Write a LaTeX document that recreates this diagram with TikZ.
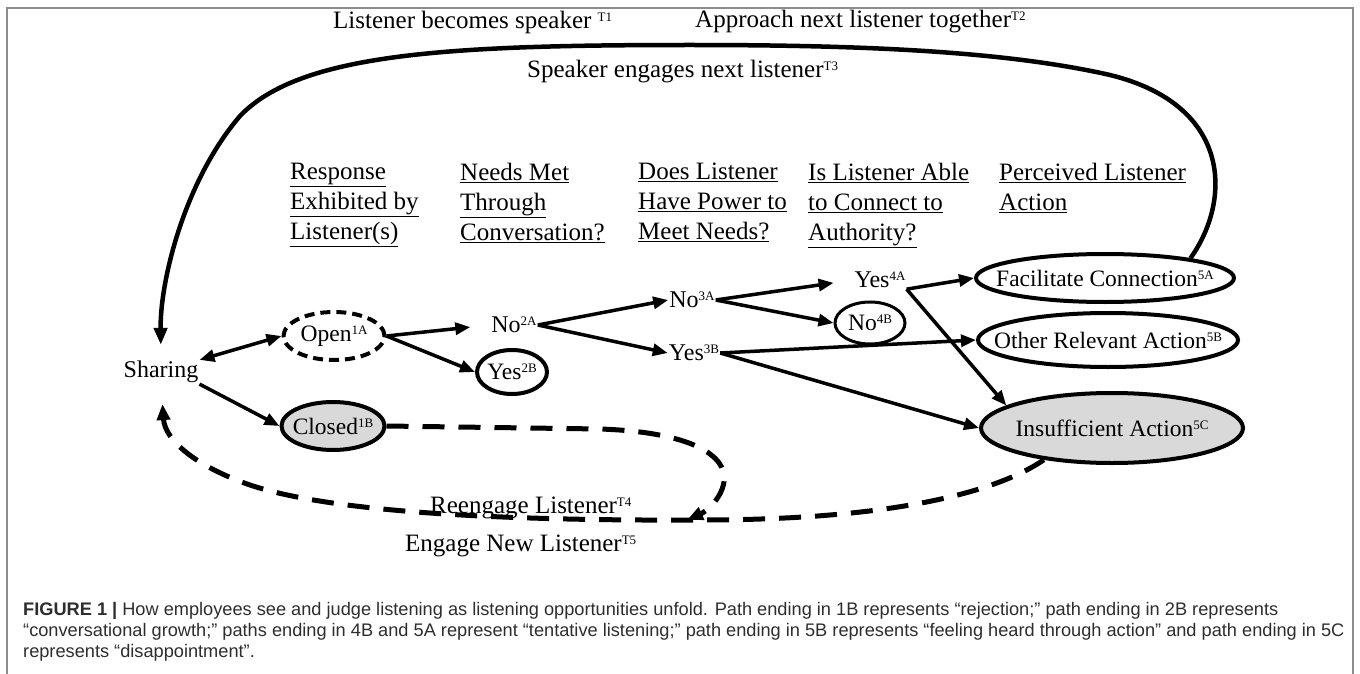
\documentclass[tikz,border=0pt]{standalone}
\usepackage{fontspec}
\setmainfont{Liberation Serif}
\newfontfamily\captionFamily{Liberation Sans}
\usepackage{tikz}
\usetikzlibrary{positioning,shapes.geometric,arrows.meta}
\tikzstyle{diagram} = [x = 1pt, y = -1pt]
\definecolor{frameColor}{RGB}{140,140,140}
\definecolor{ovalGrey}{RGB}{217,217,217}
\definecolor{captionColor}{RGB}{45,45,45}
\newcommand{\diagFont}{\fontsize{24}{30}\selectfont}
\newcommand{\ovalFont}{\fontsize{23.5}{30}\selectfont}
\newcommand{\headFont}{\fontsize{25}{30}\selectfont}
\tikzstyle{frameLine} = [color=frameColor, line width=1.5pt]
\tikzstyle{plainText} = [font=\diagFont, inner sep=1pt]
\tikzstyle{headText} = [font=\headFont, align=left, anchor=north west, inner sep=0pt]
\tikzstyle{loopText} = [font=\headFont, anchor=west, inner sep=0pt]
\tikzstyle{ovalStyle} = [ellipse, draw, line width=4pt, inner sep=0pt, font=\ovalFont]
\tikzstyle{openOval} = [ovalStyle, dash pattern=on 10pt off 6pt]
\tikzstyle{closedOval} = [ovalStyle, fill=ovalGrey]
\tikzstyle{flowArrow} = [line width=3.5pt, >={Triangle[length=15pt, width=12pt]}, ->]
\tikzstyle{loopArrow} = [line width=4.5pt, >={Triangle[length=17pt, width=13pt]}, ->]
\tikzstyle{returnArrow} = [line width=5pt, dash pattern=on 22pt off 14pt, >={Triangle[length=16pt, width=13pt]}, ->]
\tikzstyle{captionText} = [font=\captionFamily\fontsize{18.2}{21}\selectfont, text=captionColor, align=left, anchor=north west, inner sep=0pt]
\newcommand{\pathTag}[1]{\raisebox{7pt}{\fontsize{13}{13}\selectfont #1}}
\newcommand{\ovalText}[1]{\makebox[0pt]{#1}}
\newcommand{\headerLines}[3]{\underline{#1}\\\underline{#2}\\\underline{#3}}

\begin{document}
\begin{tikzpicture}[diagram]
      \useasboundingbox (0,0) rectangle (1360,674);
      \draw[frameLine] (7,674) -- (7,8) -- (1353,8) -- (1353,674);

      \node[loopText] (becomesSpeaker) at (333,22) {Listener becomes speaker \pathTag{T1}};
      \node[loopText] (approachTogether) at (695,22) {Approach next listener together\pathTag{T2}};
      \node[loopText] (engagesNext) at (527,72) {Speaker engages next listener\pathTag{T3}};

      \node[headText] (responseHead) at (290,163) {\headerLines{Response}{Exhibited by}{Listener(s)}};
      \node[headText] (needsHead) at (460,163) {\headerLines{Needs Met}{Through}{Conversation?}};
      \node[headText] (powerHead) at (638,163) {\headerLines{Does Listener}{Have Power to}{Meet Needs?}};
      \node[headText] (authorityHead) at (808,163) {\headerLines{Is Listener Able}{to Connect to}{Authority?}};
      \node[headText] (actionHead) at (999,163) {\underline{Perceived Listener}\\\underline{Action}};

      \node[plainText] (share) at (161,372) {Sharing};
      \node[openOval, minimum width=101pt, minimum height=48pt] (open) at (334,336) {\ovalText{Open\pathTag{1A}}};
      \node[closedOval, minimum width=103pt, minimum height=48pt] (closed) at (333,426) {\ovalText{Closed\pathTag{1B}}};
      \node[plainText] (noTwoA) at (514,325) {No\pathTag{2A}};
      \node[ovalStyle, minimum width=70pt, minimum height=44pt] (yesTwoB) at (512,372) {\ovalText{Yes\pathTag{2B}}};
      \node[plainText] (noThreeA) at (692,300) {No\pathTag{3A}};
      \node[plainText] (yesThreeB) at (694,353) {Yes\pathTag{3B}};
      \node[plainText] (yesFourA) at (880,280) {Yes\pathTag{4A}};
      \node[ovalStyle, line width=3pt, minimum width=70pt, minimum height=42pt] (noFourB) at (870,323) {\ovalText{No\pathTag{4B}}};
      \node[ovalStyle, minimum width=258pt, minimum height=48pt] (facilitate) at (1105,278) {\ovalText{Facilitate Connection\pathTag{5A}}};
      \node[ovalStyle, minimum width=260pt, minimum height=54pt] (otherAction) at (1108,340) {\ovalText{Other Relevant Action\pathTag{5B}}};
      \node[closedOval, minimum width=262pt, minimum height=70pt] (insufficient) at (1112,428) {\ovalText{Insufficient Action\pathTag{5C}}};

      \draw[flowArrow, <->] (share.north east) -- (open.west);
      \draw[flowArrow] (share.south east) -- (closed.west);
      \draw[flowArrow, shorten >=20pt] (open.east) -- (noTwoA.west);
      \draw[flowArrow] (open.east) -- (yesTwoB.west);
      \draw[flowArrow] (noTwoA.east) -- (noThreeA.west);
      \draw[flowArrow] (noTwoA.east) -- (yesThreeB.west);
      \draw[flowArrow, shorten >=20pt] (noThreeA.east) -- (yesFourA.west);
      \draw[flowArrow] (noThreeA.east) -- (noFourB.west);
      \draw[flowArrow] (yesThreeB.east) -- (otherAction.west);
      \draw[flowArrow] (yesThreeB.east) -- (insufficient.west);
      \draw[flowArrow] (yesFourA.south east) -- (facilitate.west);
      \draw[flowArrow] (yesFourA.south east) -- (insufficient.168);

      \draw[loopArrow, shorten >=15pt] (facilitate.13) .. controls (1232,200) and (1232,105) .. (1110,75) .. controls (1000,50) and (850,45) .. (690,45) .. controls (450,45) and (300,53) .. (240,116) .. controls (185,180) and (160,280) .. (share.north);

      \coordinate (meetPoint) at (687,520);
      \draw[returnArrow] (closed.east) -- (600,429) .. controls (690,432) and (728,455) .. (724,482) .. controls (721,500) and (705,512) .. (meetPoint);
      \draw[returnArrow, shorten >=20pt] (insufficient.205) .. controls (1000,490) and (900,520) .. (700,520) .. controls (500,521) and (330,512) .. (250,485) .. controls (195,466) and (165,440) .. (share.south);

      \node[loopText] (reengage) at (430,508) {Reengage Listener\pathTag{T4}};
      \node[loopText] (engageNew) at (405,546) {Engage New Listener\pathTag{T5}};

      \node[captionText] (caption) at (23,602) {\textbf{FIGURE 1 |} How employees see and judge listening as listening opportunities unfold. Path ending in 1B represents “rejection;” path ending in 2B represents\\“conversational growth;” paths ending in 4B and 5A represent “tentative listening;” path ending in 5B represents “feeling heard through action” and path ending in 5C\\represents “disappointment”.};
\end{tikzpicture}
\end{document}
